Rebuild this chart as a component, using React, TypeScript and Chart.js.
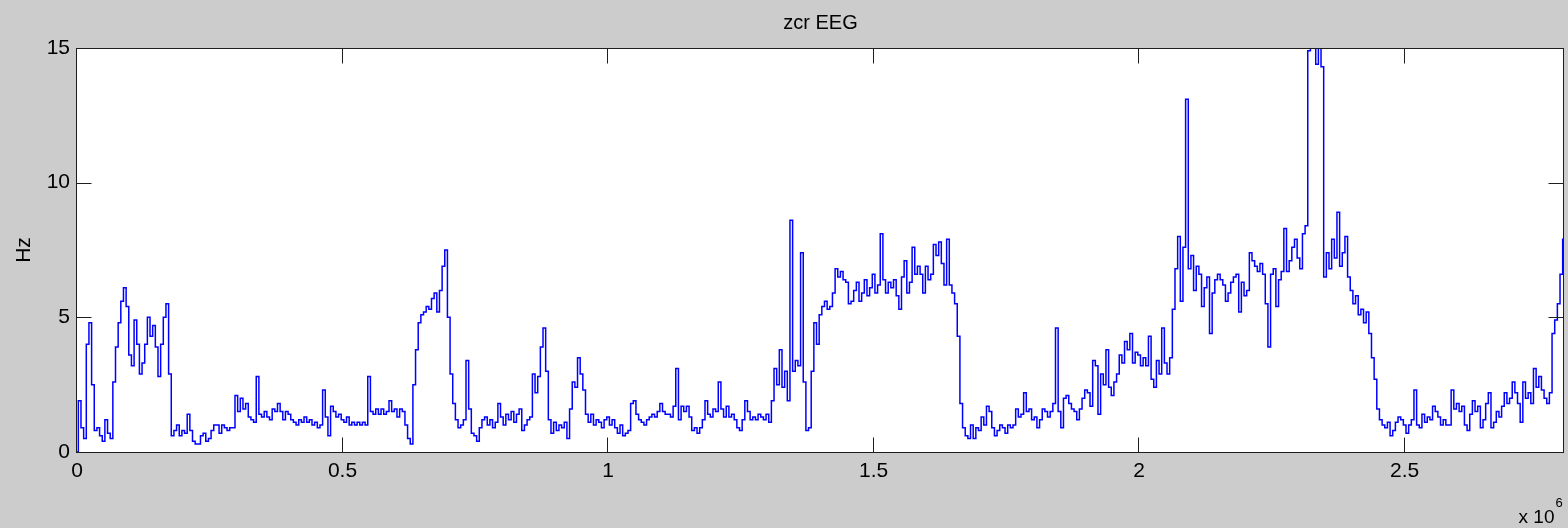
import { useEffect, useRef } from "react";
import { Chart, registerables } from "chart.js";

Chart.register(...registerables);

// Zero-crossing rate of the EEG channel, one estimate every SAMPLE_STEP samples.
const SAMPLE_STEP = 5000;
const zcrHz: number[] = [
  0.0, 1.9, 0.9, 0.5, 4.0, 4.8, 2.5, 0.8, 0.9, 0.6,
  0.4, 1.2, 0.7, 0.5, 2.6, 3.9, 4.8, 5.6, 6.1, 5.4,
  3.6, 3.2, 4.9, 4.0, 2.9, 3.3, 4.0, 5.0, 4.3, 4.7,
  3.9, 2.8, 4.0, 5.0, 5.5, 2.9, 0.6, 0.8, 1.0, 0.6,
  0.8, 0.7, 1.4, 0.8, 0.4, 0.3, 0.3, 0.6, 0.7, 0.4,
  0.5, 0.8, 1.0, 1.0, 0.7, 1.0, 0.9, 0.8, 0.9, 0.9,
  2.1, 1.5, 2.0, 1.6, 1.8, 1.3, 1.2, 1.1, 2.8, 1.4,
  1.3, 1.5, 1.3, 1.2, 1.6, 1.5, 1.8, 1.5, 1.2, 1.5,
  1.4, 1.2, 1.1, 1.0, 1.2, 1.1, 1.3, 1.1, 1.2, 1.0,
  1.1, 0.9, 1.0, 2.3, 1.3, 0.6, 1.7, 1.5, 1.3, 1.4,
  1.2, 1.1, 1.3, 1.0, 1.1, 1.0, 1.1, 1.0, 1.1, 1.0,
  2.8, 1.5, 1.4, 1.6, 1.4, 1.6, 1.4, 1.5, 1.9, 1.5,
  1.6, 1.3, 1.6, 1.5, 1.0, 0.5, 0.3, 2.5, 3.8, 4.8,
  5.1, 5.2, 5.4, 5.3, 5.7, 5.9, 5.2, 6.0, 6.9, 7.5,
  5.0, 2.9, 1.8, 1.2, 0.9, 1.0, 1.2, 3.4, 1.6, 0.7,
  0.6, 0.4, 0.9, 1.2, 1.3, 1.0, 1.2, 0.9, 1.1, 1.8,
  1.3, 1.0, 1.4, 1.2, 1.5, 1.1, 1.4, 1.6, 0.8, 1.0,
  1.2, 1.3, 2.9, 2.2, 2.8, 3.9, 4.6, 3.0, 1.2, 0.7,
  1.1, 0.8, 1.0, 0.9, 1.1, 0.5, 1.6, 2.6, 2.4, 3.5,
  2.9, 2.3, 1.4, 1.1, 1.4, 1.0, 1.2, 1.1, 0.9, 1.2,
  1.3, 1.0, 1.2, 0.9, 0.7, 1.0, 0.6, 0.7, 0.8, 1.8,
  1.9, 1.4, 1.2, 1.1, 1.0, 1.2, 1.3, 1.4, 1.3, 1.5,
  1.8, 1.5, 1.4, 1.4, 1.3, 1.7, 3.1, 1.2, 1.7, 1.5,
  1.7, 1.3, 0.8, 0.9, 0.7, 0.9, 1.2, 1.9, 1.4, 1.3,
  1.6, 1.5, 2.6, 1.6, 1.3, 1.7, 1.3, 1.4, 1.2, 0.9,
  0.8, 1.2, 1.9, 1.5, 1.2, 1.3, 1.2, 1.4, 1.3, 1.2,
  1.4, 1.1, 1.9, 3.1, 2.5, 3.8, 2.4, 3.0, 1.9, 8.6,
  3.0, 3.4, 3.2, 7.4, 2.6, 0.8, 0.9, 3.0, 4.8, 4.0,
  5.1, 5.4, 5.6, 5.3, 5.4, 5.9, 6.8, 6.5, 6.7, 6.4,
  6.3, 5.5, 5.6, 6.0, 6.3, 5.6, 5.9, 6.4, 5.8, 6.1,
  6.6, 5.9, 6.2, 8.1, 6.4, 5.9, 6.3, 6.1, 6.4, 5.8,
  5.3, 6.5, 7.1, 5.9, 6.3, 7.6, 6.6, 6.9, 6.6, 5.9,
  6.9, 6.4, 6.6, 7.7, 7.3, 7.8, 7.0, 6.2, 7.9, 6.2,
  5.9, 5.5, 4.3, 1.8, 0.9, 0.6, 0.5, 1.0, 0.5, 0.9,
  0.8, 1.3, 1.0, 1.7, 1.5, 0.9, 0.6, 0.8, 1.0, 0.9,
  0.7, 1.0, 0.9, 1.0, 1.6, 1.3, 1.4, 2.2, 1.5, 1.6,
  1.2, 1.3, 0.9, 1.2, 1.6, 1.5, 1.3, 1.5, 1.8, 4.6,
  1.5, 0.9, 2.0, 2.1, 1.8, 1.6, 1.5, 1.2, 1.6, 2.0,
  2.3, 2.2, 1.7, 3.4, 3.2, 1.4, 2.9, 2.5, 3.8, 2.4,
  2.1, 2.6, 2.9, 3.6, 3.3, 4.1, 3.8, 4.4, 3.3, 3.7,
  3.6, 3.2, 3.5, 3.2, 4.3, 2.7, 2.4, 3.4, 2.9, 4.6,
  3.3, 2.9, 3.5, 5.3, 6.8, 8.0, 5.6, 7.6, 13.1, 6.8,
  7.3, 6.0, 6.9, 6.6, 5.4, 6.1, 6.5, 4.4, 5.9, 6.4,
  6.6, 6.4, 6.2, 5.6, 5.9, 6.3, 6.5, 6.6, 5.2, 6.3,
  5.8, 6.0, 7.4, 7.1, 6.9, 6.7, 7.0, 6.6, 5.5, 3.9,
  6.6, 6.8, 5.4, 6.4, 6.7, 8.3, 6.7, 7.1, 7.6, 7.9,
  7.2, 6.8, 8.1, 8.4, 14.9, 15.6, 15.8, 14.4, 15.5, 14.3,
  6.5, 7.4, 6.8, 7.9, 7.2, 8.9, 6.9, 7.4, 8.0, 6.5,
  6.0, 5.5, 5.8, 5.1, 5.3, 4.8, 5.2, 4.4, 3.5, 2.7,
  1.6, 1.2, 1.0, 0.9, 1.1, 0.6, 0.8, 1.1, 1.3, 1.2,
  1.0, 0.7, 1.0, 1.2, 2.3, 1.0, 0.9, 1.4, 1.1, 1.3,
  1.2, 1.7, 1.5, 1.3, 1.0, 1.2, 1.0, 1.0, 2.3, 1.6,
  1.8, 1.5, 1.7, 1.0, 0.8, 1.4, 1.9, 1.5, 1.7, 0.9,
  1.2, 1.8, 2.2, 0.9, 1.1, 1.5, 1.3, 1.7, 2.2, 1.8,
  2.0, 2.6, 2.2, 1.8, 1.1, 2.6, 2.0, 2.2, 1.8, 3.1,
  2.4, 2.8, 2.3, 2.0, 1.8, 2.2, 4.4, 4.9, 5.5, 6.6,
  7.9,
];

const X_MIN = 0;
const X_MAX = 2.8e6;
const Y_MIN = 0;
const Y_MAX = 15;
const xTickValues = [0, 0.5e6, 1e6, 1.5e6, 2e6, 2.5e6];
const yTickValues = [0, 5, 10, 15];
const X_EXPONENT = 6;

const TITLE = "zcr EEG";
const Y_LABEL = "Hz";

const FIGURE_BG = "#cccccc";
const AXES_BG = "#ffffff";
const AXIS_COLOR = "#1e1e1e";
const LINE_COLOR = "#0000ff";
const FONT = "'Liberation Sans', Arial, Helvetica, sans-serif";
const TICK_LEN = 15;

// Axes box, inward tick marks on all four sides and the x-axis exponent label.
const boxedAxes = {
  id: "boxedAxes",
  beforeDraw(chart: any) {
    const { ctx, chartArea: a, width, height } = chart;
    ctx.save();
    ctx.fillStyle = FIGURE_BG;
    ctx.fillRect(0, 0, width, height);
    ctx.fillStyle = AXES_BG;
    ctx.fillRect(a.left, a.top, a.right - a.left, a.bottom - a.top);
    ctx.restore();
  },
  afterDatasetsDraw(chart: any) {
    const { ctx, chartArea: a, scales } = chart;
    const L = Math.round(a.left) - 0.5;
    const R = Math.round(a.right) - 0.5;
    const T = Math.round(a.top) + 0.5;
    const B = Math.round(a.bottom) + 0.5;
    ctx.save();
    ctx.strokeStyle = AXIS_COLOR;
    ctx.lineWidth = 1;
    ctx.beginPath();
    for (const t of scales.x.ticks) {
      const px = Math.round(scales.x.getPixelForValue(t.value)) - 0.5;
      ctx.moveTo(px, B);
      ctx.lineTo(px, B - TICK_LEN);
      ctx.moveTo(px, T);
      ctx.lineTo(px, T + TICK_LEN);
    }
    for (const t of scales.y.ticks) {
      const py = Math.round(scales.y.getPixelForValue(t.value)) + 0.5;
      ctx.moveTo(L, py);
      ctx.lineTo(L + TICK_LEN, py);
      ctx.moveTo(R, py);
      ctx.lineTo(R - TICK_LEN, py);
    }
    ctx.stroke();
    ctx.strokeRect(L, T, R - L, B - T);

    ctx.fillStyle = "#000";
    ctx.textBaseline = "alphabetic";
    ctx.textAlign = "right";
    ctx.font = `19px ${FONT}`;
    ctx.fillText("x 10", R - 9, 523);
    ctx.textAlign = "left";
    ctx.font = `13px ${FONT}`;
    ctx.fillText(String(X_EXPONENT), R - 8, 507);
    ctx.restore();
  },
};

export default function App() {
  const canvasRef = useRef<HTMLCanvasElement | null>(null);

  useEffect(() => {
    document.body.style.margin = "0";
    document.body.style.overflow = "hidden";
    const canvas = canvasRef.current;
    if (!canvas) return;

    const points = zcrHz.map((v, i) => ({ x: X_MIN + i * SAMPLE_STEP, y: v }));

    const chart = new Chart(canvas, {
      type: "line",
      data: {
        datasets: [
          {
            label: TITLE,
            data: points,
            borderColor: LINE_COLOR,
            borderWidth: 1.5,
            pointRadius: 0,
            stepped: "middle",
            fill: false,
          },
        ],
      },
      options: {
        animation: false,
        responsive: false,
        devicePixelRatio: 1,
        parsing: false,
        normalized: true,
        layout: { padding: { left: 0, right: 4, top: 0, bottom: 0 } },
        plugins: {
          legend: { display: false },
          tooltip: { enabled: false },
          title: {
            display: true,
            text: TITLE,
            color: "#000",
            fullSize: false,
            font: { family: FONT, size: 20, weight: "normal" },
            padding: { top: 11, bottom: 13 },
          },
        },
        scales: {
          x: {
            type: "linear",
            position: "bottom",
            min: X_MIN,
            max: X_MAX,
            grid: { display: false, drawTicks: false },
            border: { display: false },
            ticks: {
              color: "#000",
              font: { family: FONT, size: 21 },
              padding: 7,
              maxRotation: 0,
              autoSkip: false,
              includeBounds: false,
              callback: (v: any) => String(Number(v) / Math.pow(10, X_EXPONENT)),
            },
            afterBuildTicks: (s: any) => {
              s.ticks = xTickValues.map((value) => ({ value }));
            },
            afterFit: (s: any) => {
              s.height = 76;
            },
          },
          y: {
            type: "linear",
            position: "left",
            min: Y_MIN,
            max: Y_MAX,
            grid: { display: false, drawTicks: false },
            border: { display: false },
            title: {
              display: true,
              text: Y_LABEL,
              color: "#000",
              font: { family: FONT, size: 21 },
              padding: { top: 12, bottom: 0 },
            },
            ticks: {
              color: "#000",
              font: { family: FONT, size: 21 },
              padding: 7,
              includeBounds: false,
            },
            afterBuildTicks: (s: any) => {
              s.ticks = yTickValues.map((value) => ({ value }));
            },
            afterFit: (s: any) => {
              s.width = 77;
            },
          },
        },
      },
      plugins: [boxedAxes],
    });

    return () => chart.destroy();
  }, []);

  return (
    <div style={{ width: 1568, height: 528, background: FIGURE_BG }}>
      <canvas ref={canvasRef} width={1568} height={528} style={{ display: "block" }} />
    </div>
  );
}
